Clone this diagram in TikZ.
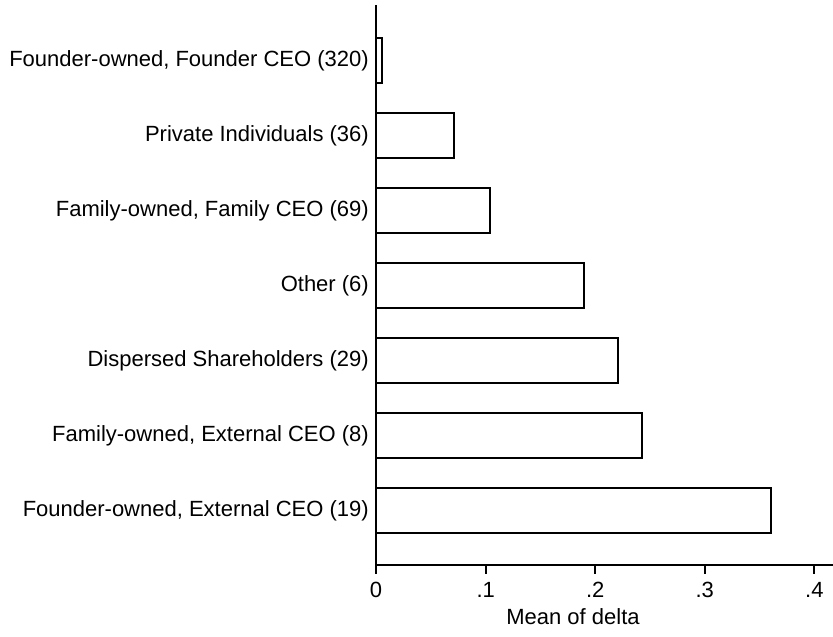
\documentclass[tikz,border=0pt]{standalone}
\usepackage{fontspec}
\setmainfont{Liberation Sans}
\begin{document}
\begin{tikzpicture}[x=1pt,y=-1pt,
  bar/.style={draw=black,line width=2pt,fill=white},
  axisline/.style={draw=black,line width=2pt},
  lbl/.style={anchor=east,inner sep=0pt,font=\fontsize{22}{25}\selectfont},
  ticklbl/.style={anchor=center,inner sep=0pt,font=\fontsize{22}{25}\selectfont}]
\useasboundingbox (0,0) rectangle (833,637);
% bars
\foreach \i/\xe/\t in {0/382/{Founder-owned, Founder CEO (320)},
                       1/453.7/{Private Individuals (36)},
                       2/490.3/{Family-owned, Family CEO (69)},
                       3/584/{Other (6)},
                       4/618.3/{Dispersed Shareholders (29)},
                       5/642.3/{Family-owned, External CEO (8)},
                       6/771/{Founder-owned, External CEO (19)}}{
  \path[bar] (376,38+75*\i) rectangle (\xe,83+75*\i);
  \node[lbl] (l\i) at (369,60.5+75*\i) {\t};
}
% axes
\coordinate (ytop) at (376,5);
\coordinate (orig) at (376,565);
\coordinate (xend) at (833,565);
\draw[axisline] (ytop) -- (orig) -- (xend);
\foreach \v/\x in {0/376,.1/485.7,.2/595.3,.3/704.7,.4/814.3}{
  \draw[axisline] (\x,565) -- (\x,573.5);
  \node[ticklbl] (t\x) at (\x,590) {\v};
}
\node[ticklbl] (xlabel) at (573,617) {Mean of delta};
\end{tikzpicture}
\end{document}
